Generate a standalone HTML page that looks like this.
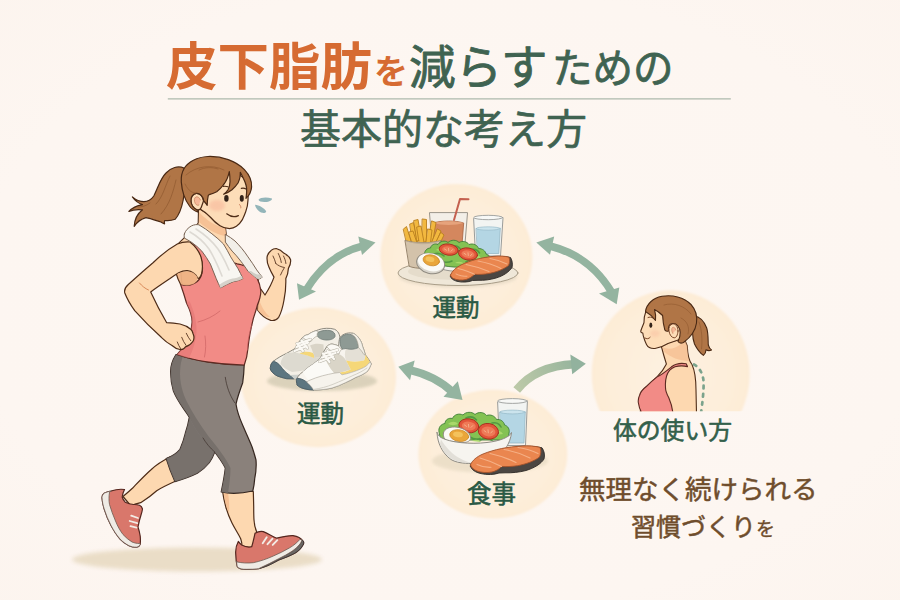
<!DOCTYPE html>
<html lang="ja">
<head>
<meta charset="utf-8">
<title>皮下脂肪を減らすための基本的な考え方</title>
<style>
html,body{margin:0;padding:0;background:#fdf6f0;}
body{width:900px;height:600px;overflow:hidden;font-family:"Liberation Sans",sans-serif;}
svg{display:block;}
</style>
</head>
<body>
<svg width="900" height="600" viewBox="0 0 900 600">
<defs>
<radialGradient id="bg" cx="50%" cy="50%" r="75%">
<stop offset="0" stop-color="#fdf7f2"/>
<stop offset="0.7" stop-color="#fdf6f1"/>
<stop offset="1" stop-color="#fcf4ee"/>
</radialGradient>
<radialGradient id="circ" cx="50%" cy="50%" r="50%">
<stop offset="0" stop-color="#fdf1e1"/>
<stop offset="0.75" stop-color="#fdeeda"/>
<stop offset="1" stop-color="#fdecd6"/>
</radialGradient>
<linearGradient id="arrD" gradientUnits="userSpaceOnUse" x1="517" y1="390" x2="586" y2="364">
<stop offset="0" stop-color="#bcc9a8"/>
<stop offset="0.6" stop-color="#a3bba0"/>
<stop offset="1" stop-color="#90b19c"/>
</linearGradient>
<filter id="blur4" x="-20%" y="-50%" width="140%" height="200%"><feGaussianBlur stdDeviation="2.2"/></filter>
<filter id="blur2" x="-20%" y="-50%" width="140%" height="200%"><feGaussianBlur stdDeviation="1.5"/></filter>
<filter id="blur03" x="-10%" y="-10%" width="120%" height="120%"><feGaussianBlur stdDeviation="0.35"/></filter>
<filter id="blur1" x="-20%" y="-20%" width="140%" height="140%"><feGaussianBlur stdDeviation="0.9"/></filter>
<clipPath id="c4clip"><rect x="580" y="280" width="180" height="131.3"/></clipPath>
</defs>
<rect width="900" height="600" fill="url(#bg)"/>
<ellipse cx="197" cy="559.5" rx="125" ry="12" fill="#e9dcc5" filter="url(#blur4)" opacity="0.95"/>
<g filter="url(#blur1)">
<ellipse cx="456.4" cy="257.1" rx="76" ry="73.2" fill="url(#circ)"/>
<ellipse cx="318.3" cy="377.4" rx="77.8" ry="69.8" fill="url(#circ)"/>
<ellipse cx="492.8" cy="454.2" rx="74.5" ry="64.4" fill="url(#circ)"/>
</g>
<g clip-path="url(#c4clip)"><ellipse cx="670.7" cy="373.9" rx="79" ry="83.6" fill="url(#circ)" filter="url(#blur1)"/></g>
<g fill="#94b4a0" stroke="none" filter="url(#blur03)">
<path d="M363,245.9 Q328,254.5 306.5,289.5" fill="none" stroke="#94b4a0" stroke-width="7.5"/>
<polygon points="375.5,242.5 358.3,236.5 362,255"/>
<polygon points="299,299.8 297,283.3 316,291.5"/>
<path d="M550,246 Q590,256 611.5,292" fill="none" stroke="#94b4a0" stroke-width="7.5"/>
<polygon points="536.3,242.5 554.2,236.5 550,254.8"/>
<polygon points="616.7,304.3 619.3,287.5 599,293.5"/>
<path d="M410,370.2 Q436,376 453.5,393" fill="none" stroke="#94b4a0" stroke-width="8"/>
<polygon points="398.3,366.7 414.7,360.6 410,380.2"/>
<polygon points="462.5,400 457.8,381.2 443.5,396.8"/>
<path d="M516.7,390 Q536,366 574,364.3" fill="none" stroke="url(#arrD)" stroke-width="8.5"/>
<polygon points="585.8,363.8 570.3,354.5 572.2,374.3" fill="#92b29e"/>
</g>
<g stroke-linejoin="round" stroke-linecap="round">
<ellipse cx="458" cy="276.5" rx="59" ry="11" fill="#d9cdb8" opacity="0.55" filter="url(#blur2)"/>
<ellipse cx="458" cy="273" rx="60" ry="12.5" fill="#efe7d8" stroke="#a99d88" stroke-width="1"/>
<ellipse cx="458" cy="271.5" rx="50" ry="8.5" fill="#e5dccb" stroke="none"/>
<path d="M429.5,213 L433.5,262 L463.5,262 L467.5,213 Z" fill="#f3efe8" stroke="#9a948a" stroke-width="1"/>
<path d="M433.3,223 C441,220.3 456,220.3 463.7,223 L461,258 L436,258 Z" fill="#d4875e" stroke="#a8623f" stroke-width="0.8"/>
<path d="M433.3,223 C441,220.6 456,220.6 463.7,223 C456,225.6 441,225.6 433.3,223 Z" fill="#e6a37c" stroke="none"/>
<path d="M454,220 L460,199 L468.5,199.3" fill="none" stroke="#c4604f" stroke-width="2"/>
<path d="M473.6,218 C473.6,216 503,216 503,218 L500.5,256 L476,256 Z" fill="#f2f4f2" stroke="#9a9c9a" stroke-width="1"/>
<path d="M476.3,228.5 L500.3,228.5 L498.8,253.5 L477.8,253.5 Z" fill="#b4d6e4" stroke="#8fb3c2" stroke-width="0.7"/>
<ellipse cx="488.3" cy="228.5" rx="12" ry="1.7" fill="#cbe4ed" stroke="#8fb3c2" stroke-width="0.6"/>
<ellipse cx="488.3" cy="217.5" rx="14.6" ry="2.2" fill="#f7f8f6" stroke="#9a9c9a" stroke-width="0.9"/>
<g fill="#f2b83f" stroke="#b97f1e" stroke-width="0.9">
<path d="M403.5,229 L406.5,226.5 L412,244 L407.5,246 Z"/>
<path d="M410,224 L413.5,222.5 L418,243 L413,244 Z"/>
<path d="M414,220.5 L418,219.5 L421.5,240 L417,241 Z"/>
<path d="M422.5,219 L426.5,219.5 L426.5,242 L422,242 Z"/>
<path d="M432,221 L436,222.5 L432.5,243 L428,242.5 Z"/>
<path d="M417,227 L421,226 L424.5,245 L420,246 Z"/>
<path d="M409,232 L413,231 L418,246 L413.5,247.5 Z"/>
<path d="M428,229 L432,230 L430,247 L425.5,246.5 Z"/>
<path d="M437.5,229 L441,231 L435,246 L431,244.5 Z"/>
<path d="M441,232.5 L444,235 L438,247.5 L434.5,245.5 Z"/>
</g>
<path d="M405.3,240.5 C415,243.5 431,243.5 441,240.5 L438.5,266.5 C430,269 416,269 409.5,266.5 Z" fill="#d3c2aa" stroke="#97856d" stroke-width="1"/>
<path d="M405.3,240.5 C415,243.5 431,243.5 441,240.5 C431,245.5 415,245.5 405.3,240.5 Z" fill="#bfae96" stroke="none"/>
<path d="M430,262 C440,275 478,275 489,258 L489,255 L430,258 Z" fill="#f4f2ee" stroke="#9a978f" stroke-width="1"/>
<path d="M424.5,255 C424,251 427,248 430.5,248 C431,245 434.5,243 438,244.5 C440,241 445,240 448,242.5 C451,239.5 456.5,239.5 459,242.5 C462.5,240.5 467,241.5 469,244.5 C473,243 477.5,245 478.5,248.5 C482.5,248.5 485.5,251 486,254 C489,255 490.5,258 489.5,260.5 C485,264 477,266.5 468,267 C455,268 440,266 432,262.5 C428,261 425,258.5 424.5,255 Z" fill="#84c253" stroke="#3f7f38" stroke-width="0.9"/>
<path d="M432,255 C436,252.5 441,253 444,256 M450,247 C454,245 458,246 460.5,249 M466,262 C470,259 475,259 479,261 M440,261 C444,262.5 449,262.5 452,261 M472,249.5 C475,249 478,250.5 479.5,253" fill="none" stroke="#4a923f" stroke-width="1.6" opacity="0.85"/>
<path d="M436,250 C439,247 444,247 446,250 C443,251.5 439,251.5 436,250 Z M470,256 C474,253.5 479,254.5 481,258 C477,259 473,258.5 470,256 Z M455,263 C458,261 462,261.5 464,264 Z" fill="#a9d86a" stroke="none"/>
<ellipse cx="448.7" cy="249.6" rx="9.6" ry="5.6" transform="rotate(8 448.7 249.6)" fill="#e2553a" stroke="#a3301f" stroke-width="0.9"/>
<ellipse cx="448.7" cy="249.8" rx="6.6" ry="3.4" transform="rotate(8 448.7 249.8)" fill="#ee7a57" stroke="none"/>
<path d="M444.5,249 L446.5,250.2 M448.5,248.5 L448.8,251 M452.5,249.6 L451,251.2" stroke="#f6b089" stroke-width="1" fill="none"/>
<ellipse cx="468" cy="254" rx="9.6" ry="6" transform="rotate(10 468 254)" fill="#e2553a" stroke="#a3301f" stroke-width="0.9"/>
<ellipse cx="468" cy="254.2" rx="6.6" ry="3.7" transform="rotate(10 468 254.2)" fill="#ee7a57" stroke="none"/>
<path d="M464,253.3 L466,254.6 M468,252.8 L468.3,255.5 M472,254 L470.5,255.7" stroke="#f6b089" stroke-width="1" fill="none"/>
<ellipse cx="430.6" cy="263.5" rx="14.2" ry="10" transform="rotate(14 430.6 263.5)" fill="#d9d5cc" stroke="#8f8a80" stroke-width="1"/>
<ellipse cx="431" cy="262.3" rx="13.3" ry="8.8" transform="rotate(14 431 262.3)" fill="#fbfaf6" stroke="none"/>
<ellipse cx="431.3" cy="260.3" rx="8.3" ry="5.4" transform="rotate(12 431.3 260.3)" fill="#eaa63a" stroke="#c98522" stroke-width="0.7"/>
<ellipse cx="430" cy="259.3" rx="4.5" ry="2.6" transform="rotate(12 430 259.3)" fill="#f4c25c" stroke="none"/>
<path d="M450.5,276 C452,272 456,268.5 461,266 C470,261.5 482,258 494,256.8 C500,256.2 506,256.3 510.5,257.5 C512.3,260.5 512.8,264 512,267.5 C509,272 503,276 496,278 C490,279.8 484,280.5 478,280.3 L472.5,280.5 C468,282.3 462,282.6 457,281.3 C453,280.2 450.5,278.3 450.5,276 Z" fill="#4b4642" stroke="#2f2a27" stroke-width="0.9"/>
<path d="M450.5,275 C452,271 456,267.5 461,265 C470,260.5 482,257.3 494,256.3 C499.5,255.8 505,256 509,257.2 C510,260 509.8,263 508.5,265.5 C504,269 497,272 489,273.5 C484,274.3 479,274.6 474.5,274.3 C472.5,276.5 469.5,278.5 466,279.5 C461.5,280.5 456.5,280 453.5,278.5 C451.5,277.5 450.5,276.3 450.5,275 Z" fill="#ea864f" stroke="#a5522a" stroke-width="0.9"/>
<path d="M458,268.5 C464,270 470,272 474.5,274.3 M466,264.5 C474,266 482,268.5 489,271.5 M478,261 C486,262.5 494,265 501,268.5 M490,258.5 C496,259.5 502,261.5 507,264" fill="none" stroke="#f6b58c" stroke-width="1.1" opacity="0.9"/>
<path d="M456,274 C459,275.5 463,276.5 467,276.3" fill="none" stroke="#f6b58c" stroke-width="1" opacity="0.9"/>
</g>
<g stroke-linejoin="round" stroke-linecap="round">
<ellipse cx="322" cy="381" rx="55" ry="10" fill="#d6cdb6" opacity="0.85" filter="url(#blur2)"/>
<g>
<path d="M270.4,367 C270.6,364.5 271.8,362.5 273.3,361.3 C277.5,358 282,355.5 286.7,353.3 C289.5,351.8 292.2,350.2 294.7,348.7 C297,344.5 299.8,340.5 302.7,337.3 C304.3,335.8 306,334.9 308,334.7 C310.5,332.8 313.2,331.5 316,330.7 C319.5,329.2 323,328.4 326.7,328.3 C329.5,328.2 332.3,328.5 334.7,329.3 C337,330.5 338.5,332.3 339.3,334.7 C341,340 342,346 342,352 L342,366 C340,371 335,374.5 328,376.5 C318,379 306,379.5 297,378.9 C293.5,378.9 290,378.8 286.7,378.7 C283.2,378 280,377 277.3,376 C274,374.3 271.2,371.8 270.4,369.3 Z" fill="#f3efe6" stroke="#8d897e" stroke-width="1"/>
<path d="M286.7,353.3 C291,352.2 296,352.5 300,353.5 C305,354.5 310,356 314,358 C318,357.5 321,356.8 323,356 L323,364 C314,368 303,371 292,372 C287,370 283,367 280.5,364 C281,359.5 283.5,355.5 286.7,353.3 Z" fill="#dddad0" stroke="none"/>
<path d="M299.5,353.4 C303.5,351.3 308.5,351.3 313,353 C314.3,354.5 314.5,356.3 314,358 C310,356 305,354.5 299.5,353.4 Z" fill="#f5d778" stroke="none"/>
<path d="M310,345.5 C314,343.5 319,343.3 323.5,344.5 L324,356 C321,356.8 318,357.5 314,358 C314.5,356.3 314.3,354.5 313,353 C312.3,350.3 311.3,347.8 310,345.5 Z" fill="#d9d4c7" stroke="none"/>
<path d="M318,332.3 C322,330.2 327,329.8 331,330.8 C334,331.8 335.5,334 335,336.5 C334,339 330,340.3 325.5,340 C321.5,339.7 318.3,338 317.3,335.8 C316.9,334.5 317.2,333.2 318,332.3 Z" fill="#8e9a94" stroke="#6f7a75" stroke-width="0.8"/>
<path d="M302.7,337.3 C304.3,335.8 306,334.9 308,334.7 C310.5,332.8 313.2,331.5 316,330.7 C317.2,331 317.8,331.6 318,332.3 C317.2,333.2 316.9,334.5 317.3,335.8 C315,337 312.5,339 311,341.5 C308,341.5 304.8,340 302.7,337.3 Z" fill="#fbf9f4" stroke="#a9a598" stroke-width="0.7"/>
<path d="M270.4,367 C270.6,364.5 271.8,362.5 273.3,361.3 C276,361.8 278.5,363.5 280.5,366 C283,369.5 286,372.8 289.5,375 C291.5,376.2 293,377.5 294,378.8 C291.5,378.8 289,378.75 286.7,378.7 C283.2,378 280,377 277.3,376 C274,374.3 271.2,371.8 270.4,369.3 Z" fill="#5d7680" stroke="#455962" stroke-width="0.8"/>
<path d="M289.5,375 C299,375 310,373.5 320,370.5 L323,369.5 L323,377.5 C314,379.3 304,379.5 297,378.9 L294,378.8 C293,377.5 291.5,376.2 289.5,375 Z" fill="#ccd0cc" stroke="none"/>
<g fill="none" stroke="#b3afa2" stroke-width="3"><path d="M294.5,351 L305.5,346.5 M296.5,347 L308,342.6 M299,343.2 L310.5,339.5 M297,343.5 L303,351 M301.5,340.5 L307.5,348"/></g>
<g fill="none" stroke="#fbf9f4" stroke-width="2.2"><path d="M294.5,351 L305.5,346.5 M296.5,347 L308,342.6 M299,343.2 L310.5,339.5 M297,343.5 L303,351 M301.5,340.5 L307.5,348"/></g>
</g>
<g>
<path d="M296.7,383 C296.3,381.3 296.3,379.8 296.7,378.7 C298,376 300,373.8 302.7,372 C306,369 309.5,366.3 313.3,364 C315.6,362.3 317.8,360.5 320,358.7 C322,354.5 324.3,350.3 326.7,346.7 C328.2,345 330,344.1 332,344 C334.3,344.3 336.6,345 338.7,346 C338.7,343 339,340 340,337.3 C341.7,335.3 344,334 346.7,333.3 C349,332.8 351.3,332.8 353.3,333.3 C355.8,334.5 357.8,336.3 359.3,338.7 C361,341 362.2,343.8 362.7,346.7 C363.8,349.3 364.7,352 365.3,354.7 C367.3,357.2 369.2,359.8 370.7,362.7 C371.3,363.5 371.3,364.5 370.7,365.3 C369.8,368 368.5,370.2 366.7,372 C363.5,374.2 359.8,376 356,377.3 C352.5,379.3 349,381.1 345.3,382.7 C341,384.8 336.6,386.6 332,388 C326.7,389.2 321.4,389.9 316,390 C311.8,390.1 307.8,389.7 304,388.7 C301.3,388 299,386.9 297.3,385.3 Z" fill="#f7f4ee" stroke="#8d897e" stroke-width="1"/>
<path d="M346,348.5 C350,349.8 354.5,349.5 358.5,347.5 C360.5,349.5 362.5,352 364,354.7 L365.3,354.7 C365.5,357 365,359 364,360.5 C358,362 351.5,362 346,360.5 C344.5,356.5 344.5,352.3 346,348.5 Z" fill="#e4e0d6" stroke="none"/>
<path d="M323,353.5 C327.5,352 333,352 338,353.5 C342,355.5 345,358 346,360.5 C348,364 349.5,367 350.7,369.5 C345,371.5 339.5,372.8 334,373.2 C329,367.5 325,360.5 323,353.5 Z" fill="#dad5c8" stroke="none"/>
<path d="M346,360.5 C351.5,362 358,362 364,360.5 C365,359 365.5,357 365.3,354.7 C367,357 368.7,359.5 370,362 C368,365 365,367.3 361,368.8 C355,371.5 348.5,373.5 342,374.8 L339.5,372.5 C343.5,372 347.5,371 350.7,369.5 C349.5,367 348,364 346,360.5 Z" fill="#f5d778" stroke="none"/>
<path d="M342,349 C340,346 339.5,342 340.3,338 C341.8,336 344,334.8 346.7,334.3 C350,333.9 353,334.8 355,337 C357,339.8 358.2,343.3 358.5,347.5 C354.5,349.5 350,349.8 346,348.5 C344.5,348.8 343.2,349 342,349 Z" fill="#8e9a94" stroke="#6f7a75" stroke-width="0.8"/>
<path d="M353.3,333.3 C355.8,334.5 357.8,336.3 359.3,338.7 C361,341 362.2,343.8 362.7,346.7 C363.8,349.3 364.7,352 365.3,354.7 L364,354.7 C362.5,352 360.5,349.5 358.5,347.5 C358.2,343.3 357,339.8 355,337 C354,335.8 352.8,334.9 351.5,334.3 Z" fill="#f3efe6" stroke="#a9a598" stroke-width="0.7"/>
<path d="M326.7,346.7 C328.2,345 330,344.1 332,344 C334.3,344.3 336.6,345 338.7,346 C339.3,347.5 340.3,348.5 342,349 C340.5,350.5 339.5,352 339,354 C334.5,353.5 330.3,351 326.7,346.7 Z" fill="#fbf9f4" stroke="#a9a598" stroke-width="0.7"/>
<path d="M302.7,372 C306,369 309.5,366.3 313.3,364 C315.6,362.3 317.8,360.5 320,358.7 L323,353.5 C325,360.5 329,367.5 334,373.2 C327,374.5 318,376.5 309,380.5 C306.5,378 304.3,375 302.7,372 Z" fill="#fbfaf6" stroke="none"/>
<path d="M296.7,383 C296.3,381.3 296.3,379.8 296.7,378.7 C297.3,378.3 298.2,378.2 299.3,378.5 C302,379 304.5,380.3 307,382.3 C309.5,384.5 311.7,386.8 313.3,389.5 L314,390 C310.5,390 307.2,389.6 304,388.7 C301.3,388 299,386.9 297.3,385.3 Z" fill="#5d7680" stroke="#455962" stroke-width="0.8"/>
<path d="M309,380.5 C318,376.5 327,374.5 334,373.2 L339.5,372.5 L342,374.8 C348.5,373.5 355,371.5 361,368.8 C365,367.3 368,365 370,362 L370.7,362.7 C371.3,363.5 371.3,364.5 370.7,365.3 C369.8,368 368.5,370.2 366.7,372 C363.5,374.2 359.8,376 356,377.3 C352.5,379.3 349,381.1 345.3,382.7 C341,384.8 336.6,386.6 332,388 C326.7,389.2 321.4,389.9 316,390 L314,390 L313.3,389.5 C311.7,386.8 309.5,384.5 307,382.3 Z" fill="#f6f3ec" stroke="#a9a598" stroke-width="0.6"/>
<path d="M313.3,389.5 C320,388.5 327,386.8 333,384.3 C340,381.5 347,378.3 353,375.5 C358,373.5 363,371 367,368" fill="none" stroke="#cfccc2" stroke-width="0.9"/>
<g fill="none" stroke="#b3afa2" stroke-width="3.1"><path d="M319.5,361.5 L333,356.5 M322,357.5 L335.5,353 M324.5,353.5 L337.5,349.8 M323,353.5 L329.5,362 M327.5,351 L334,359"/></g>
<g fill="none" stroke="#fbf9f4" stroke-width="2.3"><path d="M319.5,361.5 L333,356.5 M322,357.5 L335.5,353 M324.5,353.5 L337.5,349.8 M323,353.5 L329.5,362 M327.5,351 L334,359"/></g>
</g>
</g>
<g stroke-linejoin="round" stroke-linecap="round">
<ellipse cx="490" cy="461" rx="58" ry="12" fill="#e2d6bd" opacity="0.6" filter="url(#blur2)"/>
<path d="M497.6,401.5 C497.6,399.3 527.4,399.3 527.4,401.5 L525.5,445.5 L500,445.5 Z" fill="#f2f4f2" stroke="#9a9c9a" stroke-width="1"/>
<path d="M500,412 L525.3,412 L524,443 L501.2,443 Z" fill="#b4d6e4" stroke="#8fb3c2" stroke-width="0.7"/>
<ellipse cx="512.6" cy="412" rx="12.6" ry="1.9" fill="#cbe4ed" stroke="#8fb3c2" stroke-width="0.6"/>
<ellipse cx="512.5" cy="401" rx="14.8" ry="2.4" fill="#f7f8f6" stroke="#9a9c9a" stroke-width="0.9"/>
<path d="M439,432 C438,427.5 441,424 445,423.5 C445,420 448.5,417.5 452.5,418.5 C454,414.5 459,413 463,415 C466,411.5 472,411.5 475,414.5 C478.5,411.5 484,412 486.5,415.5 C490.5,414 495,416 496.5,419.5 C500.5,419 504,421.5 504.5,425 C508,426 510,429.5 509,433 L508,440 L441,440 Z" fill="#84c253" stroke="#3f7f38" stroke-width="0.9"/>
<path d="M446,430 C450,427 455,427.5 458,430.5 M466,418 C470,416 474,417 476.5,420 M492,423 C496,422 499.5,424 501,427 M480,440 C484,437.5 489,438 492,440.5 M470,437 C473,439 477,439.5 480,438.5" fill="none" stroke="#4a923f" stroke-width="1.6" opacity="0.85"/>
<path d="M448,424 C451,421 456,421 458,424 C455,425.5 451,425.5 448,424 Z M492,432 C496,429.5 501,430.5 503,434 C499,435 495,434.5 492,432 Z M472,441 C475,439 479,439.5 481,442 Z" fill="#a9d86a" stroke="none"/>
<ellipse cx="468.8" cy="425.8" rx="10" ry="7" transform="rotate(8 468.8 425.8)" fill="#e2553a" stroke="#a3301f" stroke-width="0.9"/>
<ellipse cx="468.8" cy="426" rx="7" ry="4.4" transform="rotate(8 468.8 426)" fill="#ee7a57" stroke="none"/>
<path d="M464.5,425 L466.5,426.4 M468.5,424.4 L468.8,427.2 M472.8,425.6 L471,427.4" stroke="#f6b089" stroke-width="1" fill="none"/>
<ellipse cx="488.4" cy="431.3" rx="10.2" ry="7.8" transform="rotate(10 488.4 431.3)" fill="#e2553a" stroke="#a3301f" stroke-width="0.9"/>
<ellipse cx="488.4" cy="431.5" rx="7.1" ry="4.9" transform="rotate(10 488.4 431.5)" fill="#ee7a57" stroke="none"/>
<path d="M484,430.5 L486,432 M488,429.8 L488.3,432.8 M492.5,431 L490.8,433" stroke="#f6b089" stroke-width="1" fill="none"/>
<path d="M443.4,433 C444.5,428.5 450,426.3 457,427.2 C464,428.2 469.5,432 470.5,437 C471,440.5 468,442.5 463,442.5 L447,441 C444,439 442.8,436 443.4,433 Z" fill="#fbfaf6" stroke="#8f8a80" stroke-width="0.9"/>
<ellipse cx="459.2" cy="435.6" rx="9.6" ry="5.8" transform="rotate(10 459.2 435.6)" fill="#eaa63a" stroke="#c98522" stroke-width="0.7"/>
<ellipse cx="458" cy="434.5" rx="5" ry="2.7" transform="rotate(10 458 434.5)" fill="#f4c25c" stroke="none"/>
<path d="M437,432.5 C437.5,443 442,453 451,459.5 C456,462.5 463,463.5 472,463.5 C482,463.5 490,462.5 495,459.5 C504,453 510.5,443 511.5,432.5 C510,437 500,441 487,442.5 C470,444.5 450,442.5 441,437.5 C438.8,436 437.5,434.3 437,432.5 Z" fill="#f6f4ef" stroke="#8f8c84" stroke-width="1"/>
<path d="M440,444 C443,452 448,457.5 455,460.5 C461,462.5 468,463 472,463 C464,461 456,457 450,451 C446,447 443,443 441,439.5 Z" fill="#dddad2" stroke="none" opacity="0.8"/>
<path d="M470.5,466 C472,461.5 477,457.5 483,455 C494,450.5 508,447.5 522,446.5 C529,446 536,446.3 542,447.8 C544.3,451 545,455 544,459 C541,464 534,468 526,470.5 C519,472.3 512,473 505,472.8 L499,473 C494,474.8 487,475 481,473.6 C475.5,472.4 471,469.5 470.5,466 Z" fill="#4b4642" stroke="#2f2a27" stroke-width="0.9"/>
<path d="M470.5,464.8 C472,460.5 477,456.5 483,454 C494,449.5 508,446.7 522,446 C528.5,445.6 535,446 540,447.4 C541.3,450.5 541,454 539.5,457 C534.5,461 526.5,464 517.5,465.7 C512,466.5 506.5,466.8 501.5,466.5 C499.5,469 496,471 492,472 C487,473 481,472.5 477,471 C473.5,469.6 470.8,467.3 470.5,464.8 Z" fill="#ea864f" stroke="#a5522a" stroke-width="0.9"/>
<path d="M480,458 C487,460 495,463 501.5,466.5 M490,453.5 C499,455.5 508,458.5 516,462.5 M504,449.5 C513,451 522,454 530,458 M518,447.5 C525,448.5 532,450.5 538,453.5" fill="none" stroke="#f6b58c" stroke-width="1.2" opacity="0.9"/>
<path d="M477,464.5 C481,466.5 486,467.5 491,467.3" fill="none" stroke="#f6b58c" stroke-width="1.1" opacity="0.9"/>
</g>
<g clip-path="url(#c4clip)" stroke-linejoin="round" stroke-linecap="round">
<path d="M694,316 C699,316.5 704,321 706.7,328 C708.5,334 708,341 708.3,345 C709,347.5 710,349 711.5,350 C709.5,351 707.5,350.7 706,349.8 C706,352 705,354 703.4,355.4 C700,353 697,349 694.5,344 C692,337 692,327 694,316 Z" fill="#b07546" stroke="#4a2914" stroke-width="1.1"/>
<path d="M699,322 C702,330 702.5,340 701.5,349" fill="none" stroke="#90592f" stroke-width="0.8" opacity="0.8"/>
<path d="M661,345 C662.5,351 664.5,358 666.4,364 C664,369 660,374 656.8,377.1 C652,381 647,386 643,390 L640,414 L696.5,414 L696,390 C696,378 694.5,370 692,364.5 C689,361 687.5,352 687.3,346 L684,338 Z" fill="#fdd8b0" stroke="#4e2c17" stroke-width="1.1"/>
<path d="M662,347 C668,350 675,349 681,344 L684,338 L687.3,346 C687.5,352 688,357 689,361 C680,361 670,357 664.3,352 Z" fill="#f3b98c" opacity="0.6" stroke="none"/>
<path d="M671.5,366.8 C667,370.5 662,374.5 656.8,377.1 C652.5,380.5 649,383.8 646,386.8 C642.5,389.5 640.3,392.5 639.5,395.5 C638.3,398 638,400.5 638.4,403 C639,407 640.5,411 642.5,414 L673,414 C672.6,409 671.3,403.5 668.8,397.7 C666.5,393.5 665.3,390 665.5,386.8 C665.2,383 665.6,379.3 666.6,376 C668,371.5 671,368.3 675,366.8 C679,365.6 683.5,365.6 687.5,366.6 L686.2,363.8 C681,362.8 675.5,363.8 671.5,366.8 Z" fill="#f28b86" stroke="#5e2a22" stroke-width="1.1"/>
<path d="M646,311 C644.5,315 643.8,319 644,322.5 C643,325.5 641.5,328.5 640.8,331 C640.6,332.2 641.3,332.8 642.8,333 C643,334.5 643.2,336 643.8,337.5 C644.5,340 645.5,342.5 646.5,344.5 C648,347.5 651,348.8 655,348.5 C659,348 664,346 668,343.5 L684,338 L682,312 L660,302 Z" fill="#fdddb8" stroke="#4e2c17" stroke-width="1.1"/>
<ellipse cx="655" cy="333.5" rx="5" ry="3.6" fill="#f5a58d" opacity="0.25" filter="url(#blur2)"/>
<ellipse cx="650.8" cy="325.2" rx="1.5" ry="2.7" fill="#33231a"/>
<path d="M645,338 C646.5,339.2 648.8,339 650.2,337.3" fill="none" stroke="#7a4527" stroke-width="1"/>
<path d="M648,317.5 C649.5,316.8 651.5,317 653,318" fill="none" stroke="#7a4527" stroke-width="1"/>
<path d="M645.5,311.5 C646.5,304 653,298 662,296.3 C672,294.5 684,297 691,304.5 C695.5,309.5 697.5,316 696.5,323 C695.5,330 691,337 683.5,342.5 C681,343.5 679,343 678,341.5 C679.5,338.5 680.3,335.5 680.2,332.5 C680,327 676.5,323 672.5,323.5 C669.5,324 668,327 668.5,331 C667,331.5 665.7,331 664.8,329.8 C663.5,325 662.8,320 662.6,315.5 C660,313 657.5,311 654.5,309.5 C655.5,313 656,317 655.5,320.5 C653,317 650,314 645.5,311.5 Z" fill="#b07546" stroke="#4a2914" stroke-width="1.1"/>
<path d="M664,305 C674,302 685,306 691,314 M681,318 C687,321 690,327 688,334" fill="none" stroke="#90592f" stroke-width="0.8" opacity="0.75"/>
<path d="M678,331 C678,326.5 675.5,323.5 672.5,324 C669.8,324.5 668.5,327.5 669,331 C669.5,334.8 671.5,337.5 674,337.8 C676.3,338 677.8,335 678,331 Z" fill="#fdddb8" stroke="#7a4527" stroke-width="1"/>
<path d="M675.8,330 C675.3,327.8 673.8,326.8 672.5,327.5 C671.3,328.5 671.5,331.5 672.8,333.5" fill="#f6b798" stroke="#c98a63" stroke-width="0.7"/>
<path d="M694,364.5 C699,367 702.8,373 703.5,381 C704,390 702.5,402 701,413" fill="none" stroke="#7ba38c" stroke-width="2.7" stroke-dasharray="2.6 5.6" stroke-linecap="round"/>
</g>
<g stroke-linejoin="round" stroke-linecap="round">
<path d="M184,168 C178,165.5 171,167.5 166,173 C160,179 158,188 153.8,196 C150,201.5 144,202.8 138,200.5 C135.5,199.5 133.5,198 132.4,197 C135,200.8 138.5,203.3 142.5,204.6 C137,205.5 132,208 128.9,211.5 C133,209.7 138,209.2 142.5,209.8 C137,214 134.5,220 134.2,226.4 C137,222 141,219 146,217.6 C151,218.5 156,220.5 160.9,222 C162,222.8 163.5,223.5 164.6,223.9 C164.2,222.5 164.2,221.5 164.7,220.5 C168.5,221 172.5,220.3 175.1,219.3 C179,215 181.5,209 183.2,200 L186,180 Z" fill="#b07546" stroke="#4a2914" stroke-width="1.2"/>
<path d="M170,176 C165,186 163,197 156,204 M176,180 C173,192 170,204 161,214 M150,203 C146,206 142,207 138,207" fill="none" stroke="#90592f" stroke-width="0.9" opacity="0.8"/>
<path d="M170,457 C160,462 155,466 151.3,469.5 C144,476 138,482.5 132.7,488 C129,491.5 126,494 123,496.5 L131,506 C134,504.5 137.5,503.5 140.7,502.7 C146.5,499 152,495 156.7,490.7 C161.5,487.5 168,484.5 178,480 Z" fill="#fdd8b0" stroke="#4e2c17" stroke-width="1.2"/>
<path d="M124.5,489.5 C120,488.8 115.5,489.5 111,491 C108.3,491.6 106,492.3 104.2,493.2 C102.7,494.3 102,495.8 102,497.7 C102.2,501.5 103,505.3 104.2,509 C106,514.8 108.3,520.3 111,525.5 C113.6,530.5 116.6,535 120,539 C122.7,541.8 125.7,544 129,545.7 C131.5,546.8 134,547.3 136.5,547.2 C138.5,546.8 139.7,545.8 140.2,544.2 C140.5,541.5 140.5,538.8 140.2,536 C139.7,533 139,530 138,527 C138.7,523 139.7,519 141,515 C141.7,513 142.2,511 142.5,509 C142,507 141,505.8 139.5,505.2 C137.5,504.6 135.5,504.4 133.5,504.5 C130.5,504.3 127.7,503.5 125.2,502.2 C123.7,500.7 122.7,499 122.2,497 C122.5,494.3 123.3,491.8 124.5,489.5 Z" fill="#d9776b" stroke="#54261e" stroke-width="1.2"/>
<path d="M111,491 C108.3,491.6 106,492.3 104.2,493.2 C102.7,494.3 102,495.8 102,497.7 C102.2,501.5 103,505.3 104.2,509 C106,514.8 108.3,520.3 111,525.5 C113.6,530.5 116.6,535 120,539 C122.7,541.8 125.7,544 129,545.7 C131.5,546.8 134,547.3 136.5,547.2 C138.5,546.8 139.7,545.8 140.2,544.2 L139.5,543.5 C137,543.5 134.5,543 132,542 C128.8,540 125.8,537.5 123,534.5 C120,530.5 117.5,526 115.5,521 C113.2,515.7 111.2,510.2 109.5,504.5 C108.8,500.5 108.8,496.5 109.5,492.5 Z" fill="#efebe5" stroke="#6d5a50" stroke-width="0.8"/>
<path d="M131.2,515.7 L138,518 M129.7,521 L137.2,523.2 M130.5,526.2 L136.5,527.7" stroke="#f3ece6" stroke-width="1.8" fill="none"/>
<path d="M222.5,491 C223.3,497 224.5,502.5 225.8,507 C227.5,513 229.8,518.5 232,523 C235,529 238.5,534 240.7,538.7 C241.5,541 242,543.5 242,546 L252.5,548 L258,533.5 C257,532.5 256.8,532.2 256.7,532 C255,528 254.2,524 254,520 C253.7,515.5 253.7,511 253.7,506.7 C253.6,501.5 253.5,496.5 253.3,491.5 Z" fill="#fdd8b0" stroke="#4e2c17" stroke-width="1.2"/>
<path d="M224,493 C224.5,500 226,507 229,513 C229.5,507 229,499 228,493 Z" fill="#f3b98c" opacity="0.8" stroke="none"/>
<path d="M238.3,541.5 C236.3,545 235.5,549.5 235.7,553.5 C235.8,558 236.3,563 237.3,566.7 C239,568.8 242.5,569.5 246.7,569.3 C251,569.4 255,569.2 258.7,568.7 C266,566.5 272.5,563.5 278.7,560 C284.5,558 290,555.8 294.7,553.3 C298.5,551 301.3,548.3 302.7,545.3 C303.8,544 303.9,542.5 303.3,541.3 C300.8,537.8 297,536.2 293,535.6 C287.5,535.4 282,536.8 276.7,538.2 C272,536 267.5,533.5 263.3,531.6 C260.5,531 257.5,531.8 255,533.3 C254,538 253,542.5 251.7,546.7 C248.5,547.5 244.5,546.5 241.7,545 C240.5,544 239.3,542.7 238.3,541.5 Z" fill="#d9776b" stroke="#54261e" stroke-width="1.2"/>
<path d="M262,567.8 C268,566 273.5,563.2 278.7,560 C284.5,558 290,555.8 294.7,553.3 C298.5,551 301.3,548.3 302.7,545.3 C303.8,544 303.9,542.5 303.3,541.3 L302,540 C301.5,541.5 300.8,542.8 300,544 C297.8,546.8 295,549.3 292,551.3 C287.8,554 283.3,556.5 278.7,558.7 C272.5,562 266.3,565.2 260,568 Z" fill="#6b6764" stroke="#3a3533" stroke-width="0.8"/>
<path d="M236.6,561.5 C236.7,563.5 237,565.3 237.3,566.7 C239,568.8 242.5,569.5 246.7,569.3 C251,569.4 255,569.2 258.7,568.7 L260,568 C266.3,565.2 272.5,562 278.7,558.7 C283.3,556.5 287.8,554 292,551.3 C295,549.3 297.8,546.8 300,544 C300.8,542.8 301.5,541.5 302,540 L300,539.3 C297,542.8 293.3,545.7 289.3,548 C284.2,551 278.8,553.7 273.3,556 C266.8,559 260,561.3 253.3,562.7 C247.5,563.3 242,563 237.3,562 Z" fill="#efebe5" stroke="#6d5a50" stroke-width="0.8"/>
<path d="M262.7,543.3 L266.7,537.3 M267.5,544.2 L272.5,538.7 M272.7,544.9 L277.3,540.2" stroke="#f3ece6" stroke-width="1.9" fill="none"/>
<path d="M258,285 C259,293 258.5,302 257.5,310 C261,315 266,319 270.7,320.3 C274,321 277,319.5 278.7,317.3 C281.5,312 283,306 284,300 C285.5,293 286,285.5 285.8,278.6 C287.5,275.5 288.2,272 288.4,268.4 C290.2,265.5 290.9,262.5 290.6,259.8 C289.5,257 287,254.7 284.1,253.3 C282,251 279.2,249.2 276.2,248.5 C274.3,248.5 272.5,249.2 271.1,250.4 C269,252 267.6,254.3 267.1,256.9 C266.8,260.5 267.5,264 268.9,267 C270.3,270.5 272.2,274 274,277.1 C272,283 268.5,289.5 265,295 Z" fill="#fdd8b0" stroke="#4e2c17" stroke-width="1.2"/>
<path d="M273,256 C274.2,258.5 275.2,261 275.8,263.5 M278.3,253.5 C279.8,256.5 280.8,259.5 281.3,262.5 M283.5,256 C284.8,258.5 285.6,261 285.9,263.5 M275.8,263.5 C278,265.5 281,267 284.5,267.5 C283,270 281.5,272.5 280.5,275" fill="none" stroke="#5a3520" stroke-width="0.9"/>
<path d="M258,296 C260,304 264,312 270,317 C266,317.5 261,314 257.5,310 Z" fill="#f3b98c" opacity="0.7" stroke="none"/>
<path d="M176,354.5 C172.5,360 170.5,366 170.6,372 C170.7,379 171.6,385 173.3,390.7 C176,397.5 180,403.5 184,409.3 C186,412 188,415 189.3,417.3 C188.5,422.5 187,428 185.3,433.3 C184,439 182,444.5 180,449.3 C176.5,453.5 171.5,456.5 166.2,458.5 C168.5,466 171.5,474 174.9,481.6 C182.5,479.5 190,477 197.3,473.3 C202,470.3 206,466.8 209.3,462.7 C211.5,459.5 213.3,456 214.7,452 C218.5,457 222.5,462.5 225.3,468 C224.5,476 222.8,484 221.2,492 C231,494.2 242,493.5 252.8,491 C253.8,487 254.4,483 254.7,478.7 C256,472.5 256.5,466 256,460 C254.8,455.5 253.5,451 252,446.7 C249,439.5 245.8,432.5 242.7,425.3 C239.5,418 237,411 236,404 C237.5,397 240,390 242.7,382.7 C243.5,377 244,371 244.2,365 C222,364.8 198,361.5 176,354.5 Z" fill="#8a817b" stroke="#35261f" stroke-width="1.2"/>
<path d="M176,354.5 C172.5,360 170.5,366 170.6,372 C170.7,379 171.6,385 173.3,390.7 C176,397.5 180,403.5 184,409.3 C186,412 188,415 189.3,417.3 C195,430 205,443 214.7,452 C218.5,457 222.5,462.5 225.3,468 C224.5,476 222.8,484 221.2,492 L228,493.3 C229.3,485 230.5,476 230.5,468 C226,458 218,448 209,437 C200,425 192,412 186,400 C181,389 179,377 180.5,366 C181,362 182,358.5 183,356.5 Z" fill="#736d69" stroke="none" opacity="0.85"/>
<path d="M189.3,417.3 C188.5,422.5 187,428 185.3,433.3 C184,439 182,444.5 180,449.3 C176.5,453.5 171.5,456.5 166.2,458.5 C168.5,466 171.5,474 174.9,481.6 C182.5,479.5 190,477 197.3,473.3 C202,470.3 206,466.8 209.3,462.7 C211.5,459.5 213.3,456 214.7,452 C205,443 195,430 189.3,417.3 Z" fill="#736d69" stroke="none" opacity="0.8"/>
<path d="M225.3,377.3 C226.5,386 229.5,395 234.7,402.7 M214.7,452 C210,448 206,443 203,438" fill="none" stroke="#3f322c" stroke-width="0.9" opacity="0.8"/>
<path d="M198.5,208 L198.2,223 C193,230 185,237 178,244 L182,284 L258,292 C261,282 256,270 248,262 C240,252 230,243 226.5,236 L225.3,226 Z" fill="#fdd8b0" stroke="#4e2c17" stroke-width="1.1"/>
<path d="M199,212 C204,218 212,224 222,227.5 L225.3,227 L226.5,236 C220,236 208,230 199,222 Z" fill="#f3b98c" opacity="0.75" stroke="none"/>
<path d="M190,242 C195,247 199.5,254 201.2,259 C202.6,264 202.8,269 202,273 C200.8,278 198,281.5 194.6,283.3 C190,285.8 185,286 180.5,284.3 C182.5,290 184.5,296 186.5,303 C190,310 192.5,317 192,323 C191.5,330 189,338 185,345 C182,349 179,352 177,354.5 C186,357.8 196,360.2 206.7,361.8 C219,363.7 232,364.8 244.3,365 C246.5,359 247.5,354 248,348 C249,338 251,328 253.3,318.7 C255,313 256.5,309 257.3,305.3 C259.5,300 261,295 260.8,290.7 C260.3,286 259,282 257.3,278.7 C255,274 252.5,270.5 249.3,268 C247,266.3 244.5,265.3 241.5,264.8 C240,264.3 238.5,264 237.2,263.8 C230,262 222,257 214,250 C208,246 200,243 190,242 Z" fill="#f28b86" stroke="#5e2a22" stroke-width="1.2"/>
<path d="M186.5,303 C190,310 192.5,317 192,323 C191.5,330 189,338 185,345 C182,349 179,352 177,354.5 C181,356 185,357.3 189,358.3 C193,350 196,341 196.5,332 C197,322 194,311 189.5,301 Z" fill="#e27674" opacity="0.6" stroke="none"/>
<path d="M198,322 C206,320 214,316 220,311 M252,325 C249,333 247.5,342 247.5,350 M205,336 C206,343 206,350 204.5,357" fill="none" stroke="#c9605f" stroke-width="0.9" opacity="0.7"/>
<path d="M190,242 C186,241.5 181.5,242.3 177.3,244 C168.5,249 160,256 153.3,262.5 C144.5,270 135.5,278 128.3,284.5 C125.5,287 124,290 124.8,293 C127.5,300 131,305.5 134.7,310.7 C143,320 152,329 161.3,337.3 C164.5,340.5 168,343.3 172,345.5 C174.5,347.8 177.3,349.2 180,349.5 C182.5,349.8 184.5,348.8 185.5,346.8 C188.5,346 191,344.3 192.6,341.8 C194.3,339.5 194.3,336.5 193,333.5 C192.5,331.5 191.6,330 190.7,329.3 C187.5,326.5 183.8,324.8 180,324 C175.5,323.2 171,322.8 166.7,322.7 C161,313 155.5,302.5 150.7,292 C156,288 163,283.3 170,278.6 C173,276.4 176,274.4 178.7,272.8 C181.5,271.3 184.5,270.5 187.3,270.6 C189.5,270.8 191.5,271.6 193.1,272.8 C195.5,274.5 197,276 197.6,278 C199,279 200.5,277 201.5,274 C203,268 202.5,262 201,257 C199,251 195,246 190,242 Z" fill="#fdd8b0" stroke="#4e2c17" stroke-width="1.2"/>
<path d="M176.5,274.3 C180,272 188,270.3 193.1,272.8 C195.5,274.5 197,276 197.6,278 C197,280.5 196,282.2 194.6,283.3 C190,285.8 185,286 180.5,284.3 C178.8,281 177.3,277.8 176.5,274.5 Z" fill="#eeb183" stroke="none" opacity="0.95"/>
<path d="M176.5,274.5 C177.3,277.8 178.8,281 180.5,284.3" fill="none" stroke="#4e2c17" stroke-width="1.1"/>
<path d="M177.3,342 C178.2,344.5 179.3,346.8 180.7,348.7 M181.7,337.3 C182.8,340.3 184.3,343 186,345.3 M186.3,333.3 C187.5,336 189,338.5 190.7,340.7" fill="none" stroke="#5a3520" stroke-width="0.9"/>
<path d="M139.5,283 C142,286 145,288.5 148.5,290" fill="none" stroke="#d98a5a" stroke-width="1"/>
<path d="M225.6,234.5 C229,236.5 232,238.5 235,241 C240,246 244.5,251.5 248,256.9 C251,261 254,265.5 256.7,269.9 C258.7,272.5 260.5,275 262.2,277.1 C261,278.8 259,279.3 256.7,278.6 C254,276 251,273.5 248,271.3 C245.5,267.5 243,264 240.8,261.2 C238,257.5 235,254 232.1,251.1 C229.5,248 227.5,245 225.6,242.4 Z" fill="#f2efe9" stroke="#7a6555" stroke-width="1"/>
<path d="M248,271.3 C251,273.5 254,276 256.7,278.6 C259,279.3 261,278.8 262.2,277.1 L260,274.5 C257.5,275 254,273.5 251,271 Z" fill="#cfccc4" stroke="none"/>
<path d="M184.4,233.8 C185.5,230.5 188,227.8 191.7,225.8 C194,224.7 196.5,224.3 198.9,224.8 C203.5,227.5 208,230.5 211.9,233.8 C216,237 220,240.3 223.4,243.9 C226,248 228.5,252.5 230.7,256.9 C233.2,260.7 235.6,264.5 237.9,268.4 C239.7,271.8 241.4,275.2 242.9,278.6 C240,280.2 237,281.2 233.6,281.6 C229,283.3 224.5,285.5 220.6,287.9 C219,285 217.5,281.8 216.2,278.6 C214.3,273.8 212.3,269 210.4,264.1 C207.8,259.5 205,255.2 201.8,251.1 C198.7,247.8 195.3,244.9 191.7,242.4 C189.2,240.8 186.7,239.4 184.4,238.1 C184,236.6 184,235.2 184.4,233.8 Z" fill="#f8f6f1" stroke="#7a6555" stroke-width="1"/>
<path d="M190,232 C197,236 204,242 209,249 C214,257 218,266 222,276 M196,229 C204,234 212,241 218,249 C222,255 226,263 229,270" fill="none" stroke="#d9d6cf" stroke-width="1.6" opacity="0.9"/>
<path d="M220.6,287.9 C224.5,285.5 229,283.3 233.6,281.6 C237,281.2 240,280.2 242.9,278.6 L241.6,275.8 C238.5,277.5 235.5,278.3 232.5,278.6 C228,279.6 223,282 219.3,284.8 Z" fill="#d6d3cb" stroke="none"/>
<path d="M203,184 C210,172 232,168 244,178 C247.5,186 248.6,194 248,200 C247.9,203 247.3,208 245.7,211.7 C244.5,215 243.4,217.5 242.2,219.9 C240.5,222.8 238.5,225 236.4,226.3 C234.3,227.8 231.8,228.5 229.4,228.6 C226,228.5 222.8,227.5 220,225.7 C216.5,223.5 213.3,220.7 210.7,217.5 C207,213.5 203,210.5 198.5,208 L195,195 Z" fill="#fdddb8" stroke="#4e2c17" stroke-width="1.2"/>
<ellipse cx="217" cy="205.5" rx="8" ry="5.8" fill="#f5a58d" opacity="0.4" filter="url(#blur2)"/>
<ellipse cx="226.4" cy="198.4" rx="2.2" ry="3.3" fill="#33231a"/>
<ellipse cx="241.8" cy="198.4" rx="2" ry="3.3" fill="#33231a"/>
<path d="M226.7,213.8 C230.5,216.8 235,217.3 238.4,215.6" fill="none" stroke="#4e2c17" stroke-width="1.2"/>
<path d="M241.3,188.4 C243,188 244.8,188.3 246,189 M223.3,186.4 C224.8,186.1 226.5,186.3 228,186.8" fill="none" stroke="#4e2c17" stroke-width="1.2"/>
<path d="M239.5,204.5 C240.6,205.8 241.1,206.8 240.8,207.9" fill="none" stroke="#c77d5a" stroke-width="0.9"/>
<path d="M203.5,201 C203,196.5 200,193 196.2,193.4 C192.6,193.9 190.5,197.5 191,201.5 C191.5,205.5 193.8,208.5 196.8,209.7 C199,210.3 200.5,209.5 201.2,207.5 Z" fill="#fdddb8" stroke="#4e2c17" stroke-width="1.2"/>
<path d="M200.5,200 C199.5,197.5 197.5,196.3 195.8,197 C194,198 194,201 195.3,203.5 C196.5,205.3 198,205.8 199,205" fill="#f6b798" stroke="#c98a63" stroke-width="0.8"/>
<path d="M184,168.7 C188,162 197,157 208,156.5 C222,156 236,161 244.4,169.6 C249.5,175 252,181 251.6,187 C251.3,190.5 250.5,194.5 246,198.3 C247,192 246.8,188 246,185 C245.3,182.5 244.3,180.3 243.3,178.3 C242.4,176.2 241.4,174.2 240.3,172.3 C240.3,174 240.2,175.5 240,177 C239.6,179.2 238.9,181.2 238,183 C236.3,185.6 234.3,187.8 232,189.7 C229.5,191.6 226.7,193.2 223.7,194.3 C225.5,192.9 227,191.4 228,189.7 C229.3,187.3 230,184.6 230,181.7 C230,178.3 229.8,175 229.3,171.7 C228.8,174 228.1,176.2 227.3,178.3 C226.3,180.7 225,183 223.3,185 C221.4,187.6 219.2,189.9 216.7,191.7 C214.6,192.8 212.4,193.7 210,194.3 L208.3,195.3 C207.5,198.5 207.2,202 207.2,205.3 C206,203.7 205,202.2 203.8,201 C203.2,196.5 200,193 196.2,193.4 C192.6,193.9 190.5,197.5 191,201.5 C191.5,205.5 193.8,208.5 196.8,209.7 C197.3,210.7 197.9,211.6 198.3,212.3 C194.5,211 191.5,209 189.5,206 C185,200 182,192 181.3,182 C181,177 182,172 184,168.7 Z" fill="#b07546" stroke="#4a2914" stroke-width="1.2"/>
<path d="M186,175 C196,166 212,164 224,170 M185,184 C189,192 193,193 196,193 M199,170 C205,167 212,167 218,169" fill="none" stroke="#90592f" stroke-width="0.9" opacity="0.75"/>
<path d="M258.5,199.8 C260,197.5 266,196.8 272,198.4 C272.4,200 269.5,201.8 265,202 C261.5,202.1 258.8,201.3 258.5,199.8 Z" fill="#93b5b9"/>
<path d="M255,204.7 C259,205 264.5,208 266.2,211.5 C265.8,213.6 261.5,213.6 258.5,210.8 C256.5,208.8 255.2,206.5 255,204.7 Z" fill="#93b5b9"/>
</g>
<g stroke="none">
<rect x="167.8" y="98.4" width="563" height="1" fill="#9aab9c"/>
</g>
<g font-family="'Liberation Sans', 'Noto Sans CJK JP', sans-serif" stroke-linejoin="round">
<text x="166" y="85" font-size="51.5" font-weight="bold" fill="#d66b32">皮下脂肪</text>
<text x="374" y="84" font-size="34" font-weight="bold" fill="#d66b32">を</text>
<text x="409" y="84" font-size="46.5" fill="#3f6351" stroke="#3f6351" stroke-width="0.9">減らす</text>
<text x="552" y="83" font-size="40.5" fill="#3f6351" stroke="#3f6351" stroke-width="0.8">ための</text>
<text x="300" y="144" font-size="41" fill="#3f6351" stroke="#3f6351" stroke-width="0.7">基本的な考え方</text>
<text x="432.5" y="316" font-size="23.5" fill="#2a5944" stroke="#2a5944" stroke-width="0.55">運動</text>
<text x="297" y="422" font-size="23.5" fill="#2a5944" stroke="#2a5944" stroke-width="0.55">運動</text>
<text x="467" y="502.5" font-size="24.5" fill="#2a5944" stroke="#2a5944" stroke-width="0.55">食事</text>
<text x="613" y="438.5" font-size="23.8" fill="#33604b" stroke="#33604b" stroke-width="0.6">体の使い方</text>
<text x="579" y="499" font-size="26.5" fill="#6f4d2c" stroke="#6f4d2c" stroke-width="0.5">無理なく続けられる</text>
<text x="631" y="536" font-size="25" fill="#6f4d2c" stroke="#6f4d2c" stroke-width="0.5">習慣づくり<tspan font-size="19" stroke-width="0.4">を</tspan></text>
</g>
</svg>
</body>
</html>
